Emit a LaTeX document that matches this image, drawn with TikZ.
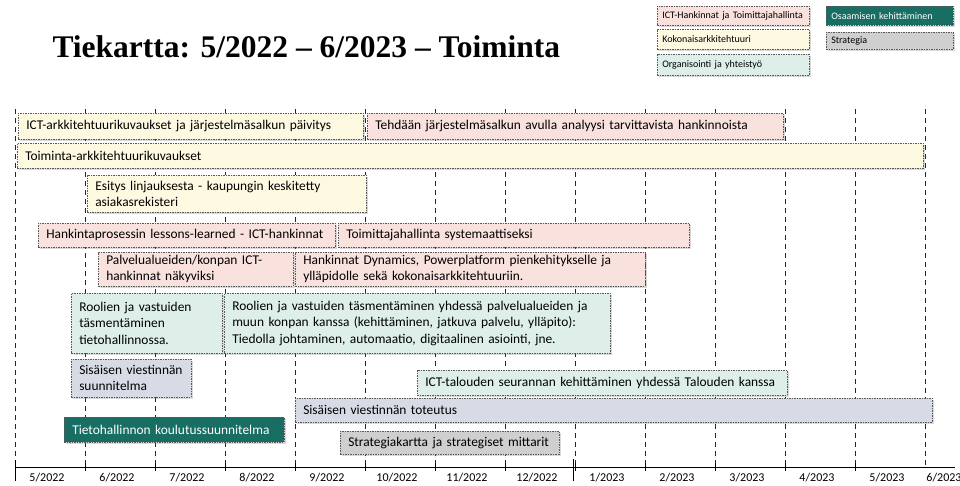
\documentclass[tikz,border=0pt]{standalone}
\usepackage{fontspec}
\setmainfont{Carlito}
\newfontfamily\titlefont{Liberation Serif}
\usetikzlibrary{positioning, shadows}
\definecolor{ictpink}{RGB}{249,225,222}
\definecolor{kokyellow}{RGB}{254,249,225}
\definecolor{orggreen}{RGB}{221,239,232}
\definecolor{viegray}{RGB}{214,219,229}
\definecolor{osateal}{RGB}{24,110,99}
\definecolor{stratgray}{RGB}{207,207,207}
\tikzset{%
	bar/.style={draw=black!65, dash pattern=on 1.5pt off 1pt, line width=0.5pt,
		rectangle, anchor=north west, inner xsep=8pt, inner ysep=0pt, align=left,
		font=\fontsize{13.4}{16.3}\selectfont,
		drop shadow={opacity=0.3, shadow xshift=1.5pt, shadow yshift=-1.5pt}},
	ict/.style={bar, fill=ictpink},
	kok/.style={bar, fill=kokyellow},
	org/.style={bar, fill=orggreen},
	vie/.style={bar, fill=viegray},
	osa/.style={bar, fill=osateal, text=white},
	strat/.style={bar, fill=stratgray},
	legbox/.style={inner xsep=5pt, font=\fontsize{10}{12}\selectfont},
	monthline/.style={black!85, line width=0.8pt, dash pattern=on 5pt off 4pt},
	axis/.style={black, line width=0.8pt},
	month/.style={font=\fontsize{12}{14}\selectfont}
}

\begin{document}
\begin{tikzpicture}[x=1pt, y=-1pt]
	\useasboundingbox (0,0) rectangle (960,485);

	\node[anchor=base west, font=\titlefont\bfseries\fontsize{31.5}{36}\selectfont]
		(title) at (49,57) {Tiekartta: 5/2022 – 6/2023 – Toiminta};

	\node[ict, legbox, minimum height=19, text width=142] (lict) at (657,6)
		{ICT-Hankinnat ja Toimittajahallinta};
	\node[kok, legbox, minimum height=20, text width=142] (lkok) at (657,29)
		{Kokonaisarkkitehtuuri};
	\node[org, legbox, minimum height=21, text width=142] (lorg) at (657,54)
		{Organisointi ja yhteistyö};
	\node[osa, legbox, minimum height=19, text width=117] (losa) at (826,6)
		{Osaamisen kehittäminen};
	\node[strat, legbox, minimum height=17, text width=117] (lstrat) at (826,32)
		{Strategia};

	\foreach \i in {0,...,13}
		\draw[monthline] (15+70*\i,109) -- (15+70*\i,467);
	\foreach \i in {1,...,12}
		\draw[axis] (15+70*\i,463) -- (15+70*\i,471);
	\draw[axis] (15,460) -- (15,481);
	\draw[axis] (573,459) -- (573,481);
	\draw[axis] (15,467) -- (955,467);

	\foreach \lab [count=\i from 0] in {5/2022, 6/2022, 7/2022, 8/2022, 9/2022,
		10/2022, 11/2022, 12/2022, 1/2023, 2/2023, 3/2023, 4/2023, 5/2023}
		\node[month] (m\i) at (47+70*\i,478) {\lab};
	\node[month] (m13) at (944,478) {6/2023};

	\node[kok, minimum height=26, text width=329] (arkkit) at (18,113)
		{ICT-arkkitehtuurikuvaukset ja järjestelmäsalkun päivitys};
	\node[ict, minimum height=26, text width=400] (analyysi) at (367,113)
		{Tehdään järjestelmäsalkun avulla analyysi tarvittavista hankinnoista};
	\node[kok, minimum height=25, text width=890] (toiminta) at (17,143)
		{Toiminta-arkkitehtuurikuvaukset};
	\node[kok, minimum height=37, text width=263] (esitys) at (87,175)
		{Esitys linjauksesta - kaupungin keskitetty\\asiakasrekisteri};
	\node[ict, minimum height=24, text width=281] (lessons) at (38,223)
		{Hankintaprosessin lessons-learned - ICT-hankinnat};
	\node[ict, minimum height=24, text width=335] (toimittaja) at (338,223)
		{Toimittajahallinta systemaattiseksi};
	\node[ict, minimum height=34, text width=179] (nakyviksi) at (98,252)
		{Palvelualueiden/konpan ICT-\\hankinnat näkyviksi};
	\node[ict, minimum height=34, text width=334] (dynamics) at (295,252)
		{Hankinnat Dynamics, Powerplatform pienkehitykselle ja\\ylläpidolle sekä kokonaisarkkitehtuuriin.};
	\node[org, minimum height=60, text width=135] (roolit) at (71,293)
		{Roolien ja vastuiden\\täsmentäminen\\tietohallinnossa.};
	\node[org, minimum height=60, text width=370] (roolitk) at (224,293)
		{Roolien ja vastuiden täsmentäminen yhdessä palvelualueiden ja\\muun konpan kanssa (kehittäminen, jatkuva palvelu, ylläpito):\\Tiedolla johtaminen, automaatio, digitaalinen asiointi, jne.};
	\node[vie, minimum height=38, text width=104] (viesuunn) at (71,359)
		{Sisäisen viestinnän\\suunnitelma};
	\node[org, minimum height=25, text width=354] (talous) at (417,370)
		{ICT-talouden seurannan kehittäminen yhdessä Talouden kanssa};
	\node[vie, minimum height=24, text width=621] (vietot) at (295,398)
		{Sisäisen viestinnän toteutus};
	\node[osa, minimum height=25, text width=204] (koulutus) at (64,417)
		{Tietohallinnon koulutussuunnitelma};
	\node[strat, minimum height=23, text width=203] (mittarit) at (340,431)
		{Strategiakartta ja strategiset mittarit};
\end{tikzpicture}
\end{document}
